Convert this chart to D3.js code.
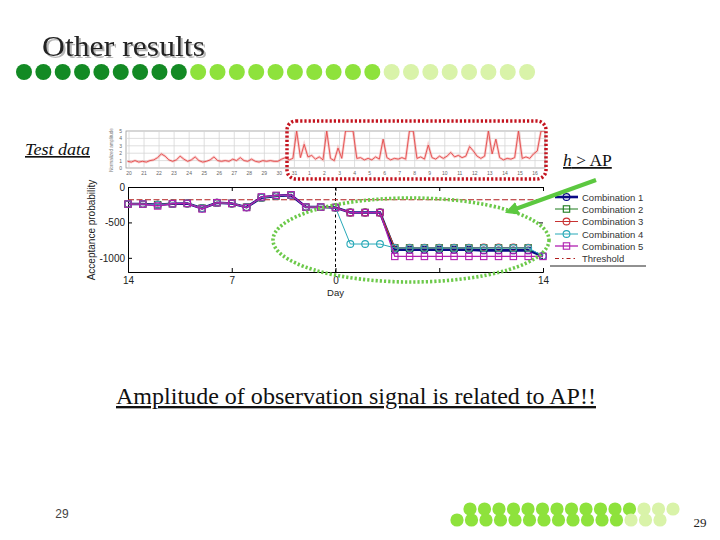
<!DOCTYPE html>
<html><head><meta charset="utf-8">
<script src="https://cdn.jsdelivr.net/npm/d3@7"></script>
<style>body{margin:0;background:#fff}svg{display:block}</style>
</head><body>
<svg id="c" width="720" height="540"></svg>
<script>
// ---------- data ----------
const days = d3.range(-14, 15);
const dayTickValues = [-14, -7, 0, 7, 14];
const dayTickLabels = ["14", "7", "0", "", "14"];
const apTickValues = [0, -500, -1000];
const apTickLabels = ["0", "-500", "-1000"];
const seriesNames = ["Combination 1", "Combination 2", "Combination 3", "Combination 4", "Combination 5"];
const comb1 = [-241,-241,-250,-236,-232,-300,-222,-232,-285,-150,-125,-115,-283,-283,-290,-360,-360,-360,-885,-885,-885,-885,-885,-885,-895,-895,-895,-895,-975];
const comb2 = [-241,-241,-250,-236,-232,-300,-222,-232,-285,-150,-125,-115,-283,-283,-290,-360,-360,-360,-860,-860,-860,-860,-860,-860,-860,-860,-860,-860,null];
const comb3 = [-241,-241,-250,-236,-232,-300,-222,-232,-285,-150,-125,-115,-283,-283,-290,-360,-360,-360,-858,-858,-858,-858,-858,-858,-855,-855,-855,-858,null];
const comb4 = [-241,-241,-250,-236,-232,-300,-222,-232,-285,-150,-125,-115,-283,-283,-290,-805,-805,-805,-860,-860,-860,-860,-860,-860,-860,-860,-860,-860,-975];
const comb5 = [-241,-241,-268,-236,-232,-310,-222,-232,-290,-140,-118,-110,-283,-283,-290,-362,-362,-362,-980,-980,-980,-980,-980,-980,-980,-980,-980,-980,-980];
const thresholdValue = -180;

// top observation signal, sampled every quarter tick
const signal = [
 0.9,0.8,1.0,0.8, 0.9,0.8,1.0,1.1, 1.4,1.9,1.6,1.1, 0.9,1.1,1.6,1.2,
 0.9,1.1,1.5,1.0, 0.8,0.9,1.1,1.5, 1.0,0.9,1.0,0.9, 1.2,1.0,1.4,1.0,
 0.9,1.2,0.9,0.8, 1.0,0.9,1.0,0.9, 0.9,1.2,1.4,1.1, 1.3,5.0,1.4,3.2,
 1.5,1.7,1.2,1.5, 1.1,5.0,1.3,1.0, 2.7,1.3,5.0,5.0, 5.0,1.3,1.4,1.1,
 1.3,1.1,1.5,1.2, 3.9,1.4,1.1,1.3, 1.2,1.4,1.2,5.0, 5.0,1.3,1.5,1.2,
 3.1,1.4,1.2,1.6, 1.3,1.6,2.1,1.5, 1.7,1.4,1.6,2.9, 2.3,1.6,1.3,1.6,
 5.0,1.9,3.9,1.4, 1.1,1.3,1.2,1.4, 5.0,1.3,1.5,1.3, 1.9,2.3,5.0,5.0, 5.0];
const signalTickLabels = ["20","21","22","23","24","25","26","27","28","29","30","31",
  "1","2","3","4","5","6","7","8","9","10","11","12","13","14","15","16"];
const signalYTicks = [0,1,2,3,4,5];

const topDots = [9, 10, 8];          // dark, mid, pale counts
const bottomRow1 = [12, 3];          // mid, pale
const bottomRow2 = [12, 3];

// ---------- drawing ----------
const svg = d3.select("#c");
const defs = svg.append("defs");
const serif = "'Liberation Serif','Times New Roman',serif";
const sans = "'Liberation Sans',Arial,sans-serif";

const sh = defs.append("filter").attr("id", "shadow").attr("x", "-5%").attr("y", "-20%").attr("width", "115%").attr("height", "150%");
sh.append("feDropShadow").attr("dx", 2).attr("dy", 2).attr("stdDeviation", 0.6)
  .attr("flood-color", "#999").attr("flood-opacity", 0.7);

// title with shadow
svg.append("text").attr("x", 42).attr("y", 56).attr("font-family", serif).attr("font-size", 30)
  .attr("textLength", 163).attr("lengthAdjust", "spacingAndGlyphs")
  .attr("fill", "#222").attr("filter", "url(#shadow)").text("Other results");

// top dot row
const dotColors = ["#138a24", "#8ee23c", "#d9f3a9"];
let k = 0;
topDots.forEach((n, gi) => {
  d3.range(n).forEach(() => {
    svg.append("circle").attr("cx", 24 + k * 19.35).attr("cy", 72).attr("r", 8).attr("fill", dotColors[gi]);
    k++;
  });
});

// ----- top signal chart -----
const tX = d3.scaleLinear().domain([0, 27]).range([129, 535]);
const tY = d3.scaleLinear().domain([0, 5]).range([168, 131]);
const tLeft = 126, tRight = 545;
const topG = svg.append("g");
topG.append("rect").attr("x", tLeft).attr("y", 131).attr("width", tRight - tLeft).attr("height", 37)
  .attr("fill", "#fff").attr("stroke", "#999").attr("stroke-width", 0.8);
d3.range(28).forEach(i => {
  topG.append("line").attr("x1", tX(i)).attr("x2", tX(i)).attr("y1", 131).attr("y2", 168)
    .attr("stroke", "#d6d6d6").attr("stroke-width", 0.8);
});
signalYTicks.slice(1, 5).forEach(v => {
  topG.append("line").attr("x1", tLeft).attr("x2", tRight).attr("y1", tY(v)).attr("y2", tY(v))
    .attr("stroke", "#d6d6d6").attr("stroke-width", 0.8);
});
defs.append("clipPath").attr("id", "tclip").append("rect")
  .attr("x", tLeft).attr("y", 131).attr("width", tRight - tLeft).attr("height", 37);
const sLine = d3.line().x((v, i) => tX(i * 0.25 - 0.1)).y(v => tY(v));
topG.append("path").datum(signal).attr("clip-path", "url(#tclip)").attr("d", sLine)
  .attr("fill", "none").attr("stroke", "#f08a8a").attr("stroke-width", 2.6).attr("opacity", 0.4);
topG.append("path").datum(signal).attr("clip-path", "url(#tclip)").attr("d", sLine)
  .attr("fill", "none").attr("stroke", "#e44848").attr("stroke-width", 0.9);
signalTickLabels.forEach((t, i) => {
  topG.append("text").attr("x", tX(i)).attr("y", 175).attr("text-anchor", "middle")
    .attr("font-family", sans).attr("font-size", 5).attr("fill", "#666").text(t);
});
signalYTicks.forEach(v => {
  topG.append("text").attr("x", 122).attr("y", tY(v) + 2).attr("text-anchor", "end")
    .attr("font-family", sans).attr("font-size", 5).attr("fill", "#666").text(v);
});
topG.append("text").attr("transform", "translate(113,150) rotate(-90)").attr("text-anchor", "middle")
  .attr("font-family", sans).attr("font-size", 4.5).attr("fill", "#777").text("Normalized amplitude");

// red dotted rounded rectangle
svg.append("rect").attr("x", 287).attr("y", 121).attr("width", 259).attr("height", 58).attr("rx", 9)
  .attr("fill", "none").attr("stroke", "#c4141f").attr("stroke-width", 3.5)
  .attr("stroke-dasharray", "2.2,2");

// ----- lower chart -----
const x = d3.scaleLinear().domain([-14, 14]).range([128, 543]);
const y = d3.scaleLinear().domain([-1200, 0]).range([272, 187]);
const lg = svg.append("g");

lg.append("g").attr("transform", "translate(0,272)")
  .call(d3.axisBottom(x).tickValues(dayTickValues).tickSize(-4).tickFormat((d, i) => dayTickLabels[i]))
  .call(g => { g.select(".domain").attr("stroke", "#000");
    g.selectAll("text").attr("font-family", sans).attr("font-size", 10).attr("fill", "#222").attr("dy", "0.9em"); });
lg.append("g").attr("transform", "translate(0,187)")
  .call(d3.axisTop(x).tickValues(dayTickValues).tickSize(-4).tickFormat(""))
  .call(g => g.select(".domain").attr("stroke", "#000"));
lg.append("g").attr("transform", "translate(128,0)")
  .call(d3.axisLeft(y).tickValues(apTickValues).tickSize(-4).tickFormat((d, i) => apTickLabels[i]))
  .call(g => { g.select(".domain").attr("stroke", "#000");
    g.selectAll("text").attr("font-family", sans).attr("font-size", 10).attr("fill", "#222").attr("x", -3); });
lg.append("g").attr("transform", "translate(543,0)")
  .call(d3.axisRight(y).tickValues(apTickValues).tickSize(-4).tickFormat(""))
  .call(g => g.select(".domain").remove());

lg.append("text").attr("transform", "translate(95,230) rotate(-90)").attr("text-anchor", "middle")
  .attr("font-family", sans).attr("font-size", 10).attr("fill", "#222").text("Acceptance probability");
lg.append("text").attr("x", x(0)).attr("y", 296).attr("text-anchor", "middle")
  .attr("font-family", sans).attr("font-size", 9.5).attr("fill", "#222").text("Day");

lg.append("line").attr("x1", x(0)).attr("x2", x(0)).attr("y1", 187).attr("y2", 272)
  .attr("stroke", "#000").attr("stroke-width", 1).attr("stroke-dasharray", "3,2.5");
lg.append("line").attr("x1", x(-14)).attr("x2", x(14)).attr("y1", y(thresholdValue)).attr("y2", y(thresholdValue))
  .attr("stroke", "#b01c1c").attr("stroke-width", 1.2).attr("stroke-dasharray", "6,2.5");

const series = [
  {name: seriesNames[0], v: comb1, color: "#0a0a85", w: 2.6, m: "circle"},
  {name: seriesNames[1], v: comb2, color: "#1b7a1b", w: 1, m: "square"},
  {name: seriesNames[2], v: comb3, color: "#c83232", w: 1, m: "circle"},
  {name: seriesNames[3], v: comb4, color: "#27a9b8", w: 1, m: "circle"},
  {name: seriesNames[4], v: comb5, color: "#b01fb0", w: 1.3, m: "square"}
];
const line = d3.line().defined(d => d[1] !== null).x(d => x(d[0])).y(d => y(d[1]));
function marker(g, type, cx, cy, color) {
  if (type === "circle") g.append("circle").attr("cx", cx).attr("cy", cy).attr("r", 3.4)
    .attr("fill", "none").attr("stroke", color).attr("stroke-width", 1.1);
  else g.append("rect").attr("x", cx - 3.2).attr("y", cy - 3.2).attr("width", 6.4).attr("height", 6.4)
    .attr("fill", "none").attr("stroke", color).attr("stroke-width", 1.1);
}
series.forEach(s => {
  const pts = days.map((d, i) => [d, s.v[i]]);
  lg.append("path").datum(pts).attr("d", line).attr("fill", "none")
    .attr("stroke", s.color).attr("stroke-width", s.w);
  pts.filter(p => p[1] !== null).forEach(p => marker(lg, s.m, x(p[0]), y(p[1]), s.color));
});

// legend
const legY = [197, 209, 221.5, 234, 246, 258.5];
series.forEach((s, i) => {
  lg.append("line").attr("x1", 555).attr("x2", 578).attr("y1", legY[i]).attr("y2", legY[i])
    .attr("stroke", s.color).attr("stroke-width", s.w);
  marker(lg, s.m, 566.5, legY[i], s.color);
  lg.append("text").attr("x", 582).attr("y", legY[i] + 3.5).attr("font-family", sans).attr("font-size", 9.5)
    .attr("fill", "#333").text(s.name);
});
lg.append("line").attr("x1", 555).attr("x2", 578).attr("y1", legY[5]).attr("y2", legY[5])
  .attr("stroke", "#b01c1c").attr("stroke-width", 1.1).attr("stroke-dasharray", "4,3,1.5,3");
lg.append("text").attr("x", 582).attr("y", legY[5] + 3.5).attr("font-family", sans).attr("font-size", 9.5)
  .attr("fill", "#333").text("Threshold");
lg.append("line").attr("x1", 550).attr("x2", 646).attr("y1", 266).attr("y2", 266)
  .attr("stroke", "#222").attr("stroke-width", 1);

// green dotted ellipse
svg.append("ellipse").attr("cx", 411).attr("cy", 240).attr("rx", 138).attr("ry", 42)
  .attr("fill", "none").attr("stroke", "#6cc94a").attr("stroke-width", 3.6)
  .attr("stroke-dasharray", "2.2,2");

// green arrow
defs.append("marker").attr("id", "ah").attr("viewBox", "0 0 10 10")
  .attr("refX", 6).attr("refY", 5).attr("markerWidth", 3.2).attr("markerHeight", 3.2).attr("orient", "auto")
  .append("path").attr("d", "M0,0 L10,5 L0,10 z").attr("fill", "#5cc840");
svg.append("line").attr("x1", 596).attr("y1", 180).attr("x2", 510).attr("y2", 211)
  .attr("stroke", "#5cc840").attr("stroke-width", 4.2).attr("marker-end", "url(#ah)");

// texts
svg.append("text").attr("x", 25).attr("y", 155).attr("font-family", serif).attr("font-size", 16.5)
  .attr("textLength", 65).attr("lengthAdjust", "spacingAndGlyphs")
  .attr("font-style", "italic").attr("fill", "#111").attr("text-decoration", "underline").text("Test data");
const hap = svg.append("text").attr("x", 563).attr("y", 166).attr("font-family", serif).attr("font-size", 17.5)
  .attr("fill", "#111").attr("text-decoration", "underline");
hap.append("tspan").attr("font-style", "italic").text("h");
hap.append("tspan").text(" > AP");
svg.append("text").attr("x", 116).attr("y", 404).attr("font-family", serif).attr("font-size", 23.5)
  .attr("textLength", 480).attr("lengthAdjust", "spacingAndGlyphs")
  .attr("fill", "#111").attr("text-decoration", "underline").text("Amplitude of observation signal is related to AP!!");
svg.append("text").attr("x", 62).attr("y", 518).attr("text-anchor", "middle").attr("font-family", sans)
  .attr("font-size", 12).attr("fill", "#444").text("29");
svg.append("text").attr("x", 700).attr("y", 527).attr("text-anchor", "middle").attr("font-family", serif)
  .attr("font-size", 13).attr("fill", "#222").text("29");

// bottom-right dot rows
function dotRow(x0, cy, counts) {
  let j = 0;
  counts.forEach((n, gi) => {
    d3.range(n).forEach(() => {
      svg.append("circle").attr("cx", x0 + j * 14.5).attr("cy", cy).attr("r", 6.6)
        .attr("fill", gi === 0 ? "#8ee23c" : "#d9f3a9");
      j++;
    });
  });
}
dotRow(470, 509, bottomRow1);
dotRow(457, 520, bottomRow2);
</script>
</body></html>
